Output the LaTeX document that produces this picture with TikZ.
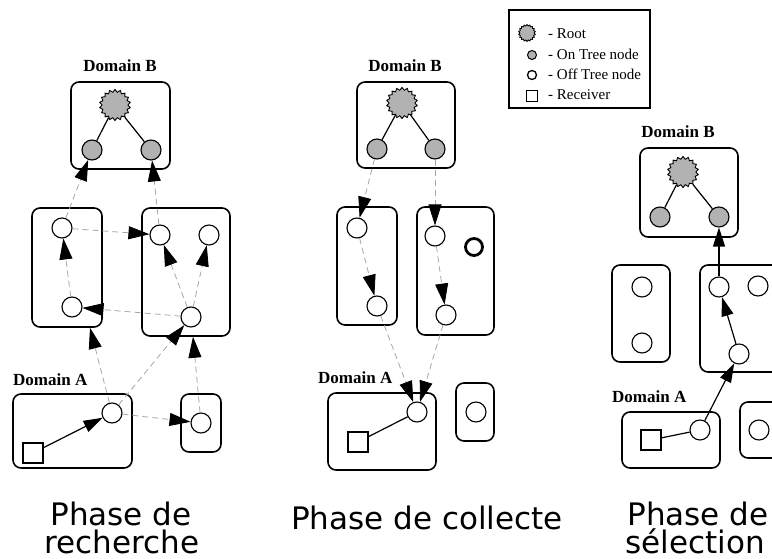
\documentclass[tikz,border=0pt]{standalone}
\usepackage{fontspec}
\setmainfont{Liberation Serif}
\newfontfamily\capfont{DejaVu Sans}
\usetikzlibrary{shapes.geometric,arrows.meta,positioning}

\begin{document}
\begin{tikzpicture}[
    x=1pt, y=-1pt,
    dom/.style={draw, rounded corners=8pt, line width=1.6pt, inner sep=0pt},
    offtree/.style={circle, draw, line width=1.1pt, minimum size=20pt, inner sep=0pt, fill=white},
    ontree/.style={offtree, fill=gray!60},
    root/.style={star, star points=18, star point ratio=1.2, draw, line width=0.9pt, fill=gray!60, minimum size=31pt, inner sep=0pt},
    recv/.style={rectangle, draw, line width=1.1pt, minimum size=20pt, inner sep=0pt, fill=white},
    tree/.style={line width=1.2pt},
    hop/.style={gray!70, dash pattern=on 6pt off 4pt, line width=0.8pt, -{Triangle[length=21pt,width=13pt,color=black,fill=black]}},
    route/.style={line width=1.2pt, -{Triangle[length=19pt,width=12pt]}},
    dlabel/.style={font=\fontsize{17}{20}\selectfont\bfseries, inner sep=0pt},
    phase/.style={font=\capfont\fontsize{31}{31}\selectfont, inner sep=0pt, anchor=base},
    key/.style={font=\fontsize{15}{17}\selectfont, anchor=base west, inner sep=0pt}
]
    \path[use as bounding box] (0,0) rectangle (772,559);

    % legend
    \node[draw, line width=1.6pt, minimum width=141, minimum height=98, inner sep=0pt] (keybox) at (579.5,59) {};
    \node[root, minimum size=17pt, line width=0.8pt] (kroot) at (527,33) {};
    \node[ontree, minimum size=9pt, line width=1pt] (kon) at (532,55) {};
    \node[offtree, minimum size=9pt, line width=1.3pt] (koff) at (532,75) {};
    \node[recv, minimum size=11pt, line width=1pt] (krecv) at (532,96) {};
    \node[key] (troot) at (548,39) {- Root};
    \node[key] (ton) at (548,60) {- On Tree node};
    \node[key] (toff) at (548,80) {- Off Tree node};
    \node[key] (trecv) at (548,100) {- Receiver};

    % phase de recherche
    \node[dlabel, anchor=base] (dB1) at (120,72) {Domain B};
    \node[dom, minimum width=99, minimum height=87] (bB1) at (120.5,125.5) {};
    \node[dom, minimum width=70, minimum height=119] (bL1) at (67,267.5) {};
    \node[dom, minimum width=88, minimum height=128] (bR1) at (186,272) {};
    \node[dlabel, anchor=base west] (dA1) at (13,385) {Domain A};
    \node[dom, minimum width=119, minimum height=74] (bA1) at (72.5,431) {};
    \node[dom, minimum width=40, minimum height=58] (bS1) at (201,423) {};

    \node[root] (rt1) at (115,105) {};
    \node[ontree] (bl1) at (92,150) {};
    \node[ontree] (br1) at (151,150) {};
    \node[offtree] (l1) at (62,228) {};
    \node[offtree] (l2) at (72,307) {};
    \node[offtree] (r1) at (160,235) {};
    \node[offtree] (r2) at (209,235) {};
    \node[offtree] (r3) at (191,317) {};
    \node[offtree] (a1) at (112,413) {};
    \node[recv] (rc1) at (33,453) {};
    \node[offtree] (s1) at (201,423) {};
    \coordinate (t1) at ([xshift=23pt]bL1.south);
    \coordinate (t2) at ([xshift=7pt]bR1.south);

    \draw[tree] (rt1) -- (bl1);
    \draw[tree] (rt1) -- (br1);
    \draw[hop] (l1) -- (bl1);
    \draw[hop] (r1) -- (br1);
    \draw[hop] (l1) -- (r1);
    \draw[hop] (l2) -- (l1);
    \draw[hop] (r3) -- (r1);
    \draw[hop] (r3) -- (r2);
    \draw[hop] (r3) -- (l2);
    \draw[hop] (a1) -- (t1);
    \draw[hop] (a1) -- (r3);
    \draw[hop] (s1) -- (t2);
    \draw[hop] (a1) -- (s1);
    \draw[route] (rc1) -- (a1);

    % phase de collecte
    \node[dlabel, anchor=base] (dB2) at (405,72) {Domain B};
    \node[dom, minimum width=98, minimum height=86] (bB2) at (406,125) {};
    \node[dom, minimum width=60, minimum height=118] (bL2) at (367,266) {};
    \node[dom, minimum width=77, minimum height=128] (bR2) at (455.5,271) {};
    \node[dlabel, anchor=base west] (dA2) at (318,383) {Domain A};
    \node[dom, minimum width=108, minimum height=77] (bA2) at (382,431.5) {};
    \node[dom, minimum width=38, minimum height=58] (bS2) at (475,412) {};

    \node[root] (rt2) at (402,103) {};
    \node[ontree] (bl2) at (377,149) {};
    \node[ontree] (br2) at (435,149) {};
    \node[offtree] (m1) at (357,228) {};
    \node[offtree] (m2) at (377,306) {};
    \node[offtree] (n1) at (435,236) {};
    \node[offtree] (n2) at (446,315) {};
    \node[offtree, minimum size=17pt, line width=2.8pt] (n3) at (474,247) {};
    \node[offtree] (a2) at (417,412) {};
    \node[recv] (rc2) at (358,442) {};
    \node[offtree] (s2) at (476,412) {};

    \draw[tree] (rt2) -- (bl2);
    \draw[tree] (rt2) -- (br2);
    \draw[hop] (bl2) -- (m1);
    \draw[hop] (br2) -- (n1);
    \draw[hop] (m1) -- (m2);
    \draw[hop] (n1) -- (n2);
    \draw[hop] (m2) -- (a2);
    \draw[hop] (n2) -- (a2);
    \draw[tree] (rc2) -- (a2);

    % phase de selection
    \node[dlabel, anchor=base] (dB3) at (678,138) {Domain B};
    \node[dom, minimum width=98, minimum height=89] (bB3) at (689,192.5) {};
    \node[dom, minimum width=58, minimum height=97] (bL3) at (641,313.5) {};
    \node[dom, minimum width=90, minimum height=107] (bR3) at (745,318.5) {};
    \node[dlabel, anchor=base west] (dA3) at (612,402) {Domain A};
    \node[dom, minimum width=98, minimum height=56] (bA3) at (671,440) {};
    \node[dom, minimum width=50, minimum height=56] (bS3) at (765,430) {};

    \node[root] (rt3) at (683,172) {};
    \node[ontree] (bl3) at (660,217) {};
    \node[ontree] (br3) at (719,217) {};
    \node[offtree] (q1) at (642,287) {};
    \node[offtree] (q2) at (642,343) {};
    \node[offtree] (p1) at (719,287) {};
    \node[offtree] (p2) at (758,286) {};
    \node[offtree] (p3) at (739,354) {};
    \node[offtree] (a3) at (700,430) {};
    \node[recv] (rc3) at (651,440) {};
    \node[offtree] (s3) at (759,430) {};

    \draw[tree] (rt3) -- (bl3);
    \draw[tree] (rt3) -- (br3);
    \draw[tree] (rc3) -- (a3);
    \draw[route] (a3) -- (p3);
    \draw[route] (p3) -- (p1);
    \draw[route] (p1) -- (br3);

    % captions
    \node[phase] (ph1a) at (121,525) {Phase de};
    \node[phase] (ph1b) at (122,553) {recherche};
    \node[phase] (ph2) at (427,529) {Phase de collecte};
    \node[phase] (ph3a) at (698,525) {Phase de};
    \node[phase] (ph3b) at (695,553) {sélection};
\end{tikzpicture}
\end{document}
